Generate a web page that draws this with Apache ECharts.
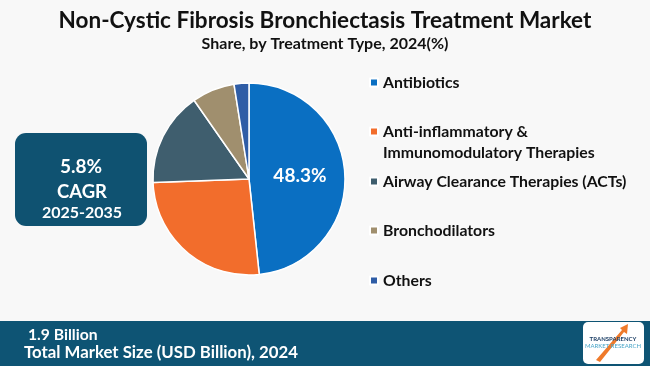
<!DOCTYPE html>
<html>
<head>
<meta charset="utf-8">
<script src="https://cdn.jsdelivr.net/npm/echarts@6/dist/echarts.min.js"></script>
<style>
html,body{margin:0;padding:0;background:#f8f8f8;}
#chart{width:650px;height:366px;}
</style>
</head>
<body>
<div id="chart"></div>
<script>
const titleText = 'Non-Cystic Fibrosis Bronchiectasis Treatment Market';
const subtitleText = 'Share, by Treatment Type, 2024(%)';
const categories = ['Antibiotics', 'Anti-inflammatory &\nImmunomodulatory Therapies', 'Airway Clearance Therapies (ACTs)', 'Bronchodilators', 'Others'];
const shares = [48.3, 26.1, 15.9, 7.2, 2.5];
const colors = ['#0a6fc2', '#f26d2c', '#3f5e6e', '#a08f6e', '#2f5da6'];
const cagrLines = ['5.8%', 'CAGR', '2025-2035'];
const footerLines = ['1.9 Billion', 'Total Market Size (USD Billion), 2024'];

const FONT = 'Lato';
const chart = echarts.init(document.getElementById('chart'));

const legendTops = [72, 100, 171, 220, 270];
const legends = categories.map((name, i) => ({
  orient: 'vertical',
  left: 369,
  top: legendTops[i],
  padding: 0,
  itemWidth: 8,
  itemHeight: 8,
  itemGap: 0,
  icon: 'rect',
  selectedMode: false,
  data: [name],
  formatter: n => (n.indexOf('\n') >= 0 ? '\n' + n : n),
  textStyle: {fontFamily: FONT, fontWeight: 'bold', fontSize: 15.8, color: '#111', lineHeight: 21}
}));

const option = {
  backgroundColor: '#f8f8f8',
  animation: false,
  title: [
    {text: titleText, left: 'center', top: 8, padding: 0,
     textStyle: {fontFamily: FONT, fontWeight: 'bold', fontSize: 22.5, color: '#111', lineHeight: 26}},
    {text: subtitleText, left: 'center', top: 35, padding: 0,
     textStyle: {fontFamily: FONT, fontWeight: 'bold', fontSize: 16, color: '#111', lineHeight: 18}}
  ],
  legend: legends,
  series: [{
    type: 'pie',
    center: [249, 179],
    radius: [0, 96],
    startAngle: 90,
    clockwise: true,
    itemStyle: {borderColor: '#ffffff', borderWidth: 1.5},
    label: {
      show: true,
      position: 'inside',
      formatter: p => p.dataIndex === 0 ? p.value + '%' : '',
      color: '#fff', fontFamily: FONT, fontWeight: 'bold', fontSize: 19
    },
    labelLine: {show: false},
    emphasis: {disabled: true},
    data: categories.map((n, i) => ({name: n, value: shares[i], itemStyle: {color: colors[i]}}))
  }],
  graphic: [
    {type: 'rect', shape: {x: 15, y: 133, width: 132, height: 93, r: 11}, style: {fill: '#0f5271'}},
    {type: 'text', x: 81, y: 167, style: {text: cagrLines[0], fill: '#fff', font: 'bold 19px ' + FONT, align: 'center', verticalAlign: 'middle'}},
    {type: 'text', x: 82, y: 192, style: {text: cagrLines[1], fill: '#fff', font: 'bold 18.5px ' + FONT, align: 'center', verticalAlign: 'middle'}},
    {type: 'text', x: 82, y: 213, style: {text: cagrLines[2], fill: '#fff', font: 'bold 16px ' + FONT, align: 'center', verticalAlign: 'middle'}},
    {type: 'rect', shape: {x: 0, y: 321, width: 650, height: 45}, style: {fill: '#0e5474'}},
    {type: 'text', x: 28, y: 335, style: {text: footerLines[0], fill: '#fff', font: 'bold 15.7px ' + FONT, verticalAlign: 'middle'}},
    {type: 'text', x: 24, y: 353, style: {text: footerLines[1], fill: '#fff', font: 'bold 16.8px ' + FONT, verticalAlign: 'middle'}},
    {type: 'rect', shape: {x: 583, y: 322, width: 61, height: 42, r: 5}, style: {fill: '#fff'}},
    {type: 'polygon', shape: {points: [[596, 360], [600, 362], [624, 332], [627, 334], [628, 324], [620, 328], [622, 330]]}, style: {fill: '#ef7a2a'}},
    {type: 'text', x: 613, y: 339, style: {text: 'TRANSPARENCY', fill: '#1d3f66', font: 'bold 6px ' + FONT, align: 'center', verticalAlign: 'middle'}},
    {type: 'text', x: 613, y: 346, style: {text: 'MARKET RESEARCH', fill: '#4aa6c8', font: '6px ' + FONT, align: 'center', verticalAlign: 'middle'}}
  ]
};
chart.setOption(option);
</script>
</body>
</html>
